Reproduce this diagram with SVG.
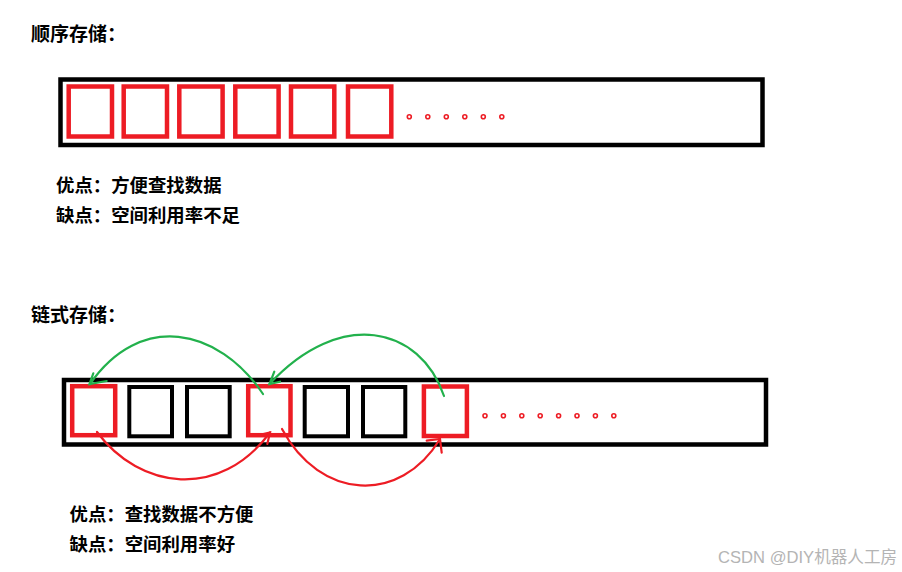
<svg xmlns="http://www.w3.org/2000/svg" width="902" height="572" viewBox="0 0 902 572">
  <style>
    .t { font-family: "Noto Sans CJK SC", "Liberation Sans", sans-serif; font-weight: 700; fill: #000; }
    .title { font-size: 19px; }
    .body { font-size: 18.4px; }
    .wm { font-family: "Liberation Sans", "Noto Sans CJK SC", sans-serif; font-size: 16.6px; fill: #b4b4b4; }
    .frame { fill: #fff; stroke: #000; stroke-width: 4.5; }
    .rb { fill: none; stroke: #ed1c24; stroke-width: 4.5; }
    .bb { fill: none; stroke: #000; stroke-width: 4; }
    .dot { fill: #fff; stroke: #ed1c24; stroke-width: 1.6; }
    .g { fill: none; stroke: #22b14c; stroke-width: 2.2; stroke-linecap: round; }
    .r { fill: none; stroke: #ed1c24; stroke-width: 2.2; stroke-linecap: round; }
  </style>
  <rect width="902" height="572" fill="#fff"/>

  <!-- Sequential storage -->
  <g id="seq-title"><text class="t title" x="31" y="40.5">顺序存储：</text></g>
  <g id="seq-frame">
    <rect class="frame" x="60.5" y="79.5" width="702" height="65.5"/>
  </g>
  <g id="seq-cells">
    <rect class="rb" x="68.7" y="86.5" width="43.3" height="50"/>
    <rect class="rb" x="123.7" y="86.5" width="43.3" height="50"/>
    <rect class="rb" x="179.3" y="86.5" width="43.3" height="50"/>
    <rect class="rb" x="235.3" y="86.5" width="43.3" height="50"/>
    <rect class="rb" x="291" y="86.5" width="43.3" height="50"/>
    <rect class="rb" x="348" y="86.5" width="43.3" height="50"/>
  </g>
  <g id="seq-dots">
    <circle class="dot" cx="409.3" cy="116.7" r="2"/>
    <circle class="dot" cx="427.8" cy="116.7" r="2"/>
    <circle class="dot" cx="446.3" cy="116.7" r="2"/>
    <circle class="dot" cx="464.8" cy="116.7" r="2"/>
    <circle class="dot" cx="483.3" cy="116.7" r="2"/>
    <circle class="dot" cx="501.8" cy="116.7" r="2"/>
  </g>
  <g id="seq-notes">
    <text class="t body" x="56" y="191.7">优点：方便查找数据</text>
    <text class="t body" x="56" y="222">缺点：空间利用率不足</text>
  </g>

  <!-- Linked storage -->
  <g id="link-title"><text class="t title" x="31" y="322">链式存储：</text></g>
  <g id="link-frame">
    <rect class="frame" x="64" y="380" width="702" height="64.5"/>
  </g>
  <g id="node1"><rect class="rb" x="72.2" y="386.2" width="43" height="49"/></g>
  <g id="cell2"><rect class="bb" x="129.3" y="387" width="42.7" height="49.3"/></g>
  <g id="cell3"><rect class="bb" x="187" y="387" width="42.7" height="49.3"/></g>
  <g id="node4"><rect class="rb" x="248.2" y="386.2" width="42.3" height="49"/></g>
  <g id="cell5"><rect class="bb" x="304.7" y="387" width="43.3" height="49.3"/></g>
  <g id="cell6"><rect class="bb" x="363" y="387" width="42.3" height="49.3"/></g>
  <g id="node7"><rect class="rb" x="423.9" y="386.5" width="43" height="49.5"/></g>
  <g id="link-dots">
    <circle class="dot" cx="485" cy="415.7" r="2"/>
    <circle class="dot" cx="503.4" cy="415.7" r="2"/>
    <circle class="dot" cx="521.8" cy="415.7" r="2"/>
    <circle class="dot" cx="540.2" cy="415.7" r="2"/>
    <circle class="dot" cx="558.6" cy="415.7" r="2"/>
    <circle class="dot" cx="577" cy="415.7" r="2"/>
    <circle class="dot" cx="595.4" cy="415.7" r="2"/>
    <circle class="dot" cx="613.8" cy="415.7" r="2"/>
  </g>

  <g id="connectors">
    <!-- green: node4 -> node1 -->
    <path class="g" d="M263,394 C218,327 140,312 90,384"/>
    <path class="g" d="M93.3,373.3 L89.5,384 L106.7,381"/>
    <!-- green: node7 -> node4 -->
    <path class="g" d="M444,396 C420,326 340,308 269.5,384"/>
    <path class="g" d="M274.3,371.7 L269.5,384 L280,381.7"/>
    <!-- red: node1 -> node4 -->
    <path class="r" d="M97,432 C140,490 220,500 270,432.5"/>
    <path class="r" d="M259,435 L270,432.5 L267.3,444"/>
    <!-- red: node4 -> node7 -->
    <path class="r" d="M282,429 C320,500 400,505 440,439"/>
    <path class="r" d="M426.7,440.7 L440,439 L441.7,452.7"/>
  </g>

  <g id="link-notes">
    <text class="t body" x="69.5" y="520.5">优点：查找数据不方便</text>
    <text class="t body" x="69.5" y="550.5">缺点：空间利用率好</text>
  </g>

  <g id="watermark"><text class="wm" x="718" y="563">CSDN @DIY机器人工房</text></g>
</svg>
